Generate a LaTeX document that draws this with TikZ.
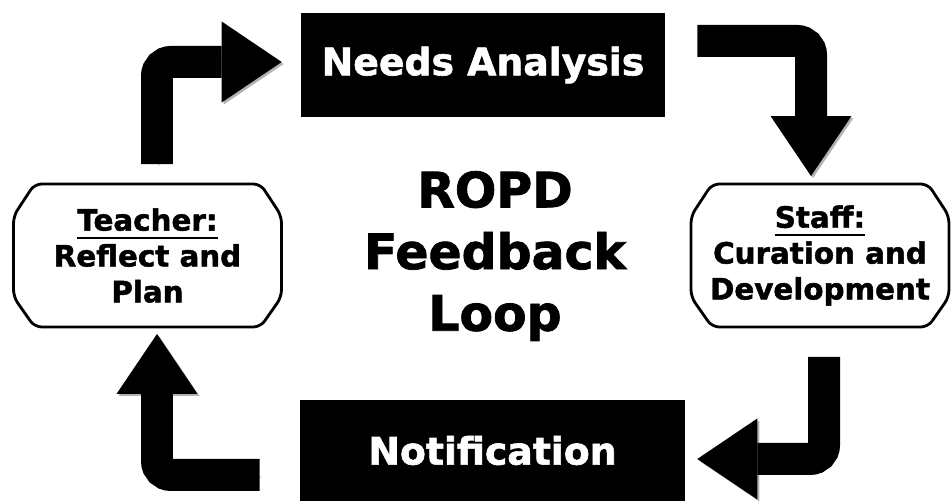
\documentclass[tikz,border=0pt]{standalone}
\usepackage{fontspec}
\setmainfont{DejaVu Sans}[BoldFeatures={FakeBold=1.6}]
\usetikzlibrary{arrows.meta,calc}

% underlined first line of a side box
\newcommand{\ulhead}[1]{\vtop{\hbox{#1}\kern3.2pt\hrule height 1.2pt}}

\begin{document}
\begin{tikzpicture}[x=0.02cm, y=-0.02cm]
        \tikzset{
            darkbox/.style={draw=none, fill=black, text=white, inner sep=0pt,
                font=\fontsize{21.5}{26}\selectfont\bfseries},
            sidebox/.style={rectangle, minimum height=2.86cm, inner sep=0pt, outer sep=0pt,
                align=center, font=\fontsize{16.7}{20.4}\selectfont\bfseries},
            boxline/.style={line width=1.6pt, rounded corners=4pt},
            bigarrow/.style={line width=0.64cm, rounded corners=0.28cm,
                -{Triangle[length=1.2cm, width=1.62cm, line width=0pt]},
                preaction={draw=black!30, transform canvas={shift={(0.04cm,-0.04cm)}}}}
        }
        \useasboundingbox (0,0) rectangle (951,502);
        \clip (0,0) rectangle (951,502);

        \node (needs)   [darkbox, minimum width=7.28cm, minimum height=2.08cm] at (483,65) {Needs Analysis};
        \node (notif)   [darkbox, minimum width=7.7cm, minimum height=2.02cm] at (492.5,450.5) {Notification\hspace{0.32cm}};
        \node (teacher) [sidebox, minimum width=5.36cm] at (147.5,255.5) {\ulhead{Teacher:}\\Reflect and\\Plan};
        \node (staff)   [sidebox, minimum width=5.16cm] at (820,255.5) {\ulhead{Staff:}\\Curation and\\Development};
        \node (title)   [align=center, font=\fontsize{27.8}{35.1}\selectfont\bfseries] at (495,256) {ROPD\\Feedback\\Loop};

        % cut-corner outlines of the side boxes
        \foreach \b in {teacher,staff}
            \draw[boxline] ($(\b.north west)+(21,0)$) -- ($(\b.north east)+(-21,0)$)
                -- ($(\b.north east)+(0,32)$) -- ($(\b.south east)+(0,-30)$)
                -- ($(\b.south east)+(-21,0)$) -- ($(\b.south west)+(21,0)$)
                -- ($(\b.south west)+(0,-30)$) -- ($(\b.north west)+(0,32)$) -- cycle;

        \draw[bigarrow] ($(teacher.north)+(9.5,-20)$) |- ($(needs.west)+(-19,-3)$);
        \draw[bigarrow] ($(needs.east)+(32,-24)$) -| ($(staff.north)+(-9,-8)$);
        \draw[bigarrow] ($(staff.south)+(4,30)$) |- ($(notif.east)+(12,8.5)$);
        \draw[bigarrow] ($(notif.west)+(-40,24.5)$) -| ($(teacher.south)+(9.5,7)$);

    \end{tikzpicture}
\end{document}
